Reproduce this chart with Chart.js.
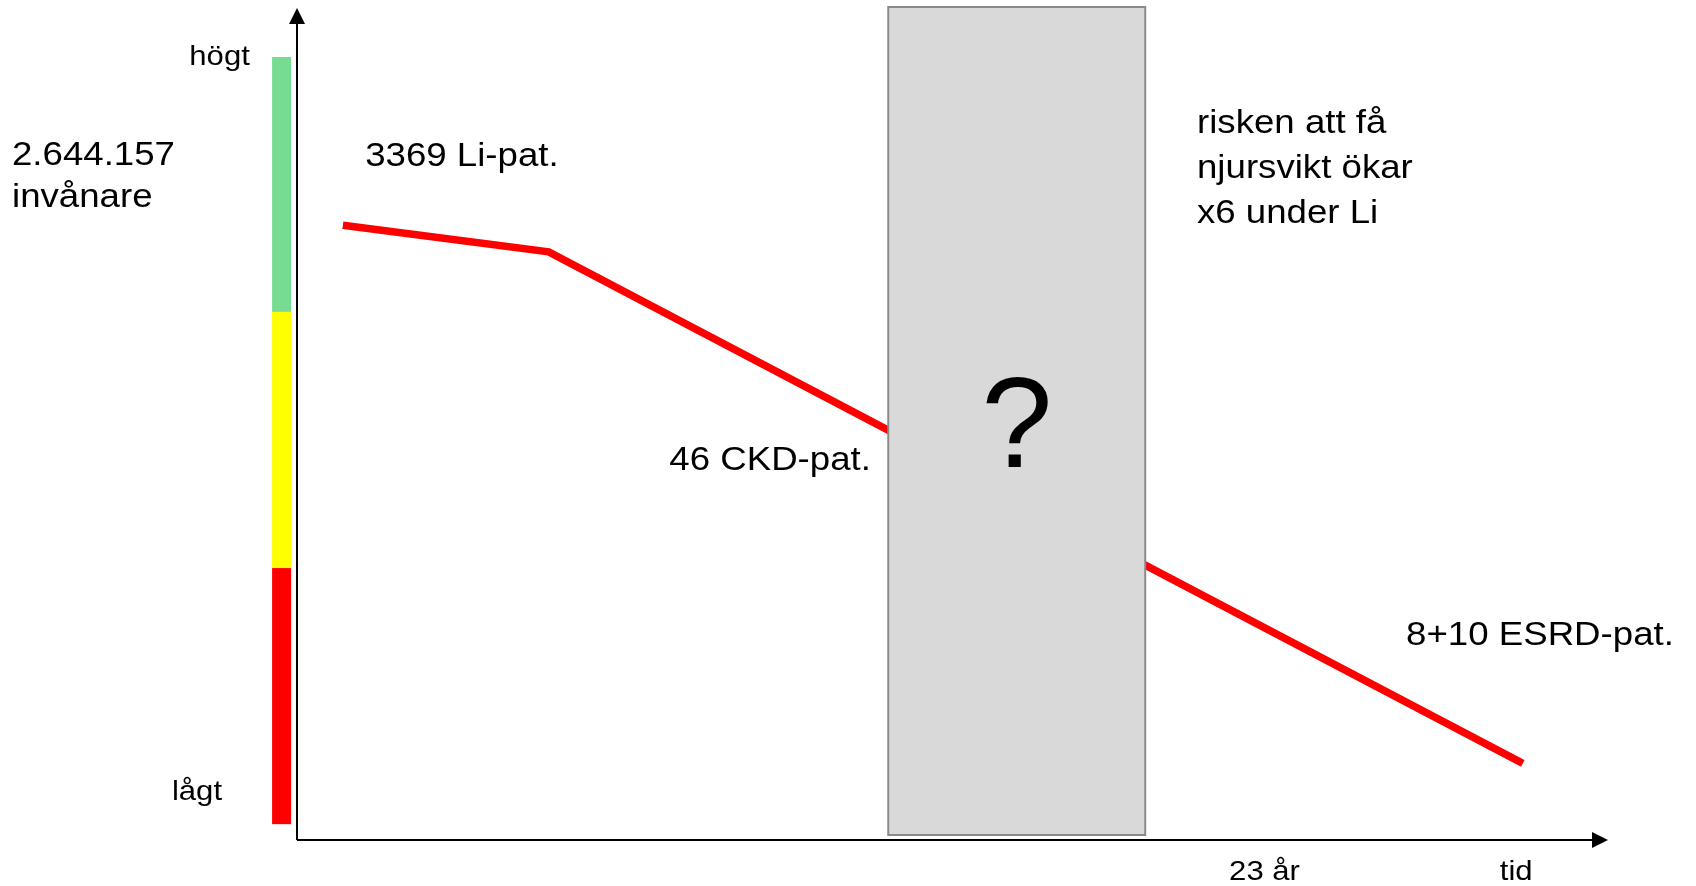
<!DOCTYPE html>
<html lang="sv">
<head>
<meta charset="utf-8">
<title>Li-patienter över tid</title>
<script src="https://cdn.jsdelivr.net/npm/chart.js@4/dist/chart.umd.min.js"></script>
<style>
  html, body { margin: 0; padding: 0; background: #ffffff; }
  #wrap { width: 1696px; height: 886px; }
</style>
</head>
<body>
<div id="wrap"><canvas id="graf" width="1696" height="886"></canvas></div>
<script>
// kurvans punkter (tid, nivå) i diagramenheter 0..100
const tid = [3.5, 19.2, 93.5];
const niva = [73.8, 70.6, 9.2];

// färgskalan vid y-axeln: gränser och färger nerifrån och upp
const skalGranser = [1.9, 32.65, 63.4, 94.0];
const skalFarger = ['#ff0000', '#ffff00', '#77db91'];
const skalX = [-1.9, -0.45];

// okänt intervall (grå ruta)
const okandX = [45.1, 64.7];
const okandY = [0.6, 100];

// etiketter på axlarna
const xEtiketter = ['23 år', 'tid'];
const xEtikettPos = [73.8, 93.0];
const yEtiketter = ['högt', 'lågt'];
const yEtikettPos = [93.0, 4.8];
const yEtikettX = [-3.6, -5.72];

// fria texter: [text, x, y]
const texter = [
    ['2.644.157', -21.74, 81.0],
    ['invånare', -21.74, 76.0],
    ['3369 Li-pat.', 5.2, 80.9],
    ['46 CKD-pat.', 28.4, 44.4],
    ['risken att få', 68.65, 84.9],
    ['njursvikt ökar', 68.65, 79.5],
    ['x6 under Li', 68.65, 74.1],
    ['8+10 ESRD-pat.', 84.6, 23.4]
];

const FONT = '"Liberation Sans", Arial, sans-serif';
const BRED = 1.11; // texten är lite utdragen på bredden

function skrivText(ctx, str, x, y, size, align, sx) {
    ctx.save();
    ctx.translate(x, y);
    ctx.scale(sx, 1);
    ctx.font = size + 'px ' + FONT;
    ctx.fillStyle = '#000000';
    ctx.textAlign = align;
    ctx.textBaseline = 'alphabetic';
    ctx.fillText(str, 0, 0);
    ctx.restore();
}

// axlar med pilar, färgskala och texter
const bakgrund = {
    id: 'bakgrund',
    beforeDatasetsDraw(chart) {
        const ctx = chart.ctx;
        const xs = chart.scales.x;
        const ys = chart.scales.y;
        const x0 = xs.getPixelForValue(0);
        const y0 = ys.getPixelForValue(0);
        const xEnd = xs.getPixelForValue(100);
        const yTop = ys.getPixelForValue(100) + 1;

        // färgskala
        for (let i = 0; i < skalFarger.length; i++) {
            const top = ys.getPixelForValue(skalGranser[i + 1]);
            const bot = ys.getPixelForValue(skalGranser[i]);
            const l = xs.getPixelForValue(skalX[0]);
            const r = xs.getPixelForValue(skalX[1]);
            ctx.fillStyle = skalFarger[i];
            ctx.fillRect(l, top, r - l, bot - top);
        }

        // axellinjer
        ctx.save();
        ctx.strokeStyle = '#000000';
        ctx.lineWidth = 2;
        ctx.beginPath();
        ctx.moveTo(x0, y0);
        ctx.lineTo(x0, yTop + 15);
        ctx.moveTo(x0, y0);
        ctx.lineTo(xEnd - 15, y0);
        ctx.stroke();

        ctx.fillStyle = '#000000';
        ctx.beginPath();
        ctx.moveTo(x0, yTop);
        ctx.lineTo(x0 - 8, yTop + 16);
        ctx.lineTo(x0 + 8, yTop + 16);
        ctx.closePath();
        ctx.fill();
        ctx.beginPath();
        ctx.moveTo(xEnd, y0);
        ctx.lineTo(xEnd - 16, y0 - 8);
        ctx.lineTo(xEnd - 16, y0 + 8);
        ctx.closePath();
        ctx.fill();
        ctx.restore();

        // etiketter
        xEtiketter.forEach((t, i) => {
            skrivText(ctx, t, xs.getPixelForValue(xEtikettPos[i]), ys.getPixelForValue(-4.8), 28, 'center', BRED);
        });
        yEtiketter.forEach((t, i) => {
            skrivText(ctx, t, xs.getPixelForValue(yEtikettX[i]), ys.getPixelForValue(yEtikettPos[i]), 28, 'right', BRED);
        });
        texter.forEach(([t, x, y]) => {
            skrivText(ctx, t, xs.getPixelForValue(x), ys.getPixelForValue(y), 33, 'left', BRED);
        });
    },
    // grå ruta över kurvan
    afterDatasetsDraw(chart) {
        const ctx = chart.ctx;
        const xs = chart.scales.x;
        const ys = chart.scales.y;
        const l = xs.getPixelForValue(okandX[0]);
        const r = xs.getPixelForValue(okandX[1]);
        const t = ys.getPixelForValue(okandY[1]);
        const b = ys.getPixelForValue(okandY[0]);
        ctx.save();
        ctx.fillStyle = '#d9d9d9';
        ctx.fillRect(l, t, r - l, b - t);
        ctx.strokeStyle = '#8a8a8a';
        ctx.lineWidth = 2;
        ctx.strokeRect(l, t, r - l, b - t);
        ctx.restore();
        skrivText(ctx, '?', (l + r) / 2, ys.getPixelForValue(44.8), 128, 'center', 1);
    }
};

new Chart(document.getElementById('graf'), {
    type: 'line',
    data: {
        datasets: [{
            data: tid.map((t, i) => ({ x: t, y: niva[i] })),
            borderColor: '#ff0000',
            borderWidth: 7.5,
            borderCapStyle: 'butt',
            borderJoinStyle: 'miter',
            pointRadius: 0,
            tension: 0,
            fill: false
        }]
    },
    options: {
        responsive: false,
        animation: false,
        layout: { padding: { left: 297, top: 7, right: 88, bottom: 46 } },
        scales: {
            x: { type: 'linear', min: 0, max: 100, display: false },
            y: { type: 'linear', min: 0, max: 100, display: false }
        },
        plugins: {
            legend: { display: false },
            tooltip: { enabled: false }
        }
    },
    plugins: [bakgrund]
});
</script>
</body>
</html>
